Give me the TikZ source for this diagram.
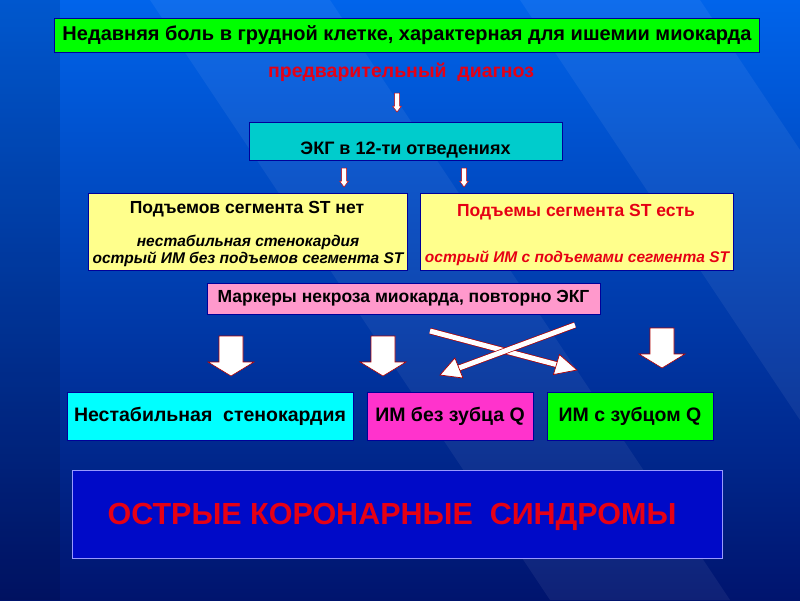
\documentclass[tikz,border=0pt]{standalone}
\usepackage{fontspec}
\setmainfont{Liberation Sans}
\usetikzlibrary{calc}
\definecolor{bgtop}{RGB}{0,100,235}
\definecolor{bgbot}{RGB}{0,20,110}
\definecolor{tgreen}{RGB}{0,255,0}
\definecolor{tcyan}{RGB}{0,204,204}
\definecolor{lyel}{RGB}{255,255,140}
\definecolor{lpink}{RGB}{255,153,204}
\definecolor{bcyan}{RGB}{0,255,255}
\definecolor{bmag}{RGB}{255,51,204}
\definecolor{tred}{RGB}{230,0,20}
\definecolor{bigblue}{RGB}{0,10,200}
\begin{document}
\begin{tikzpicture}[x=1pt,y=-1pt,
  box/.style={draw=blue!60!black,line width=0.6pt,inner sep=0pt,font=\bfseries},
  sarrow/.style={draw=red!80!black,fill=white,line width=0.5pt},
  barrow/.style={draw=red!70!black,fill=white,line width=0.6pt},
  xarrow/.style={draw=red!70!black,double=white,double distance=5pt,line width=0.7pt}]
\useasboundingbox (0,0) rectangle (800,600);
\shade[top color=bgtop,bottom color=bgbot] (0,0) rectangle (800,600);
\fill[black,opacity=0.12] (0,0) rectangle (60,600);
\fill[white,opacity=0.06] (150,0) -- (330,0) -- (730,600) -- (550,600) -- cycle;
\fill[white,opacity=0.06] (520,0) -- (700,0) -- (800,150) -- (800,420) -- cycle;
% top
\node[box,fill=tgreen,minimum width=705pt,minimum height=34pt,font=\bfseries\fontsize{20}{22}\selectfont] (top) at (407,35) {Недавняя боль в грудной клетке, характерная для ишемии миокарда};
\node[text=tred,font=\bfseries\fontsize{19.5}{22}\selectfont] (pre) at (401,72) {предварительный\ \ диагноз};
\node[box,fill=tcyan,minimum width=313pt,minimum height=38pt] (ecg) at (405.5,141) {};
\node[font=\bfseries\fontsize{18}{20}\selectfont] (ecgt) at (405.5,150) {ЭКГ в 12-ти отведениях};
\draw[sarrow] (394.5,93) -- (399.5,93) -- (399.5,106) -- (401.5,106) -- (397,112) -- (392.5,106) -- (394.5,106) -- cycle;
\foreach \xx in {344,464}{
\draw[sarrow] (\xx-2.5,168) -- (\xx+2.5,168) -- (\xx+2.5,181) -- (\xx+4.5,181) -- (\xx,187) -- (\xx-4.5,181) -- (\xx-2.5,181) -- cycle;}
% yellow boxes
\node[box,fill=lyel,minimum width=319pt,minimum height=77pt] (yl) at (247.5,231.5) {};
\node[font=\bfseries\fontsize{17.5}{20}\selectfont] (ylt) at (247,209) {Подъемов сегмента ST нет};
\node[font=\bfseries\itshape\fontsize{15.5}{17}\selectfont,align=center] (yli) at (248,251) {нестабильная стенокардия\\острый ИМ без подъемов сегмента ST};
\node[box,fill=lyel,minimum width=313pt,minimum height=77pt] (yr) at (576.5,231.5) {};
\node[text=tred,font=\bfseries\fontsize{17.5}{20}\selectfont] (yrt) at (576,212) {Подъемы сегмента ST есть};
\node[text=tred,font=\bfseries\itshape\fontsize{15.5}{17}\selectfont] (yri) at (577,258) {острый ИМ с подъемами сегмента ST};
% pink
\node[box,fill=lpink,minimum width=393pt,minimum height=31pt,font=\bfseries\fontsize{17.5}{20}\selectfont] (pink) at (403.5,298.5) {Маркеры некроза миокарда, повторно ЭКГ};
% block arrows
\foreach \xx/\yy in {231/336,383/336,662/328}{
\draw[barrow] (\xx-12,\yy) -- (\xx+12,\yy) -- (\xx+12,\yy+26) -- (\xx+23,\yy+26) -- (\xx,\yy+40) -- (\xx-23,\yy+26) -- (\xx-12,\yy+26) -- cycle;}
\coordinate (c1s) at (430,331); \coordinate (c1e) at (577,370);
\coordinate (c2s) at (575,325); \coordinate (c2e) at (440,375);
\draw[xarrow] (c1s) -- ($(c1s)!0.88!(c1e)$);
\filldraw[fill=white,draw=red!70!black,line width=0.7pt] (c1e) -- ($(c1s)!0.86!(c1e)+(3,-10)$) -- ($(c1s)!0.86!(c1e)+(-3,10)$) -- cycle;
\draw[xarrow] (c2s) -- ($(c2s)!0.88!(c2e)$);
\filldraw[fill=white,draw=red!70!black,line width=0.7pt] (c2e) -- ($(c2s)!0.86!(c2e)+(-4,-10)$) -- ($(c2s)!0.86!(c2e)+(4,10)$) -- cycle;
% bottom boxes
\node[box,fill=bcyan,minimum width=286pt,minimum height=48pt,font=\bfseries\fontsize{19.5}{22}\selectfont] (n1) at (210,416) {Нестабильная\ \ стенокардия};
\node[box,fill=bmag,minimum width=166pt,minimum height=48pt,font=\bfseries\fontsize{19.5}{22}\selectfont] (n2) at (450,416) {ИМ без зубца Q};
\node[box,fill=tgreen,minimum width=166pt,minimum height=48pt,font=\bfseries\fontsize{19.5}{22}\selectfont] (n3) at (630,416) {ИМ с зубцом Q};
% big box
\node[draw=blue!40!white,line width=0.6pt,fill=bigblue,minimum width=650pt,minimum height=88pt,inner sep=0pt] (big) at (397,514) {};
\node[text=tred,font=\bfseries\fontsize{30.5}{33}\selectfont] (bigt) at (392,517) {ОСТРЫЕ КОРОНАРНЫЕ\ \ СИНДРОМЫ};
\end{tikzpicture}
\end{document}
